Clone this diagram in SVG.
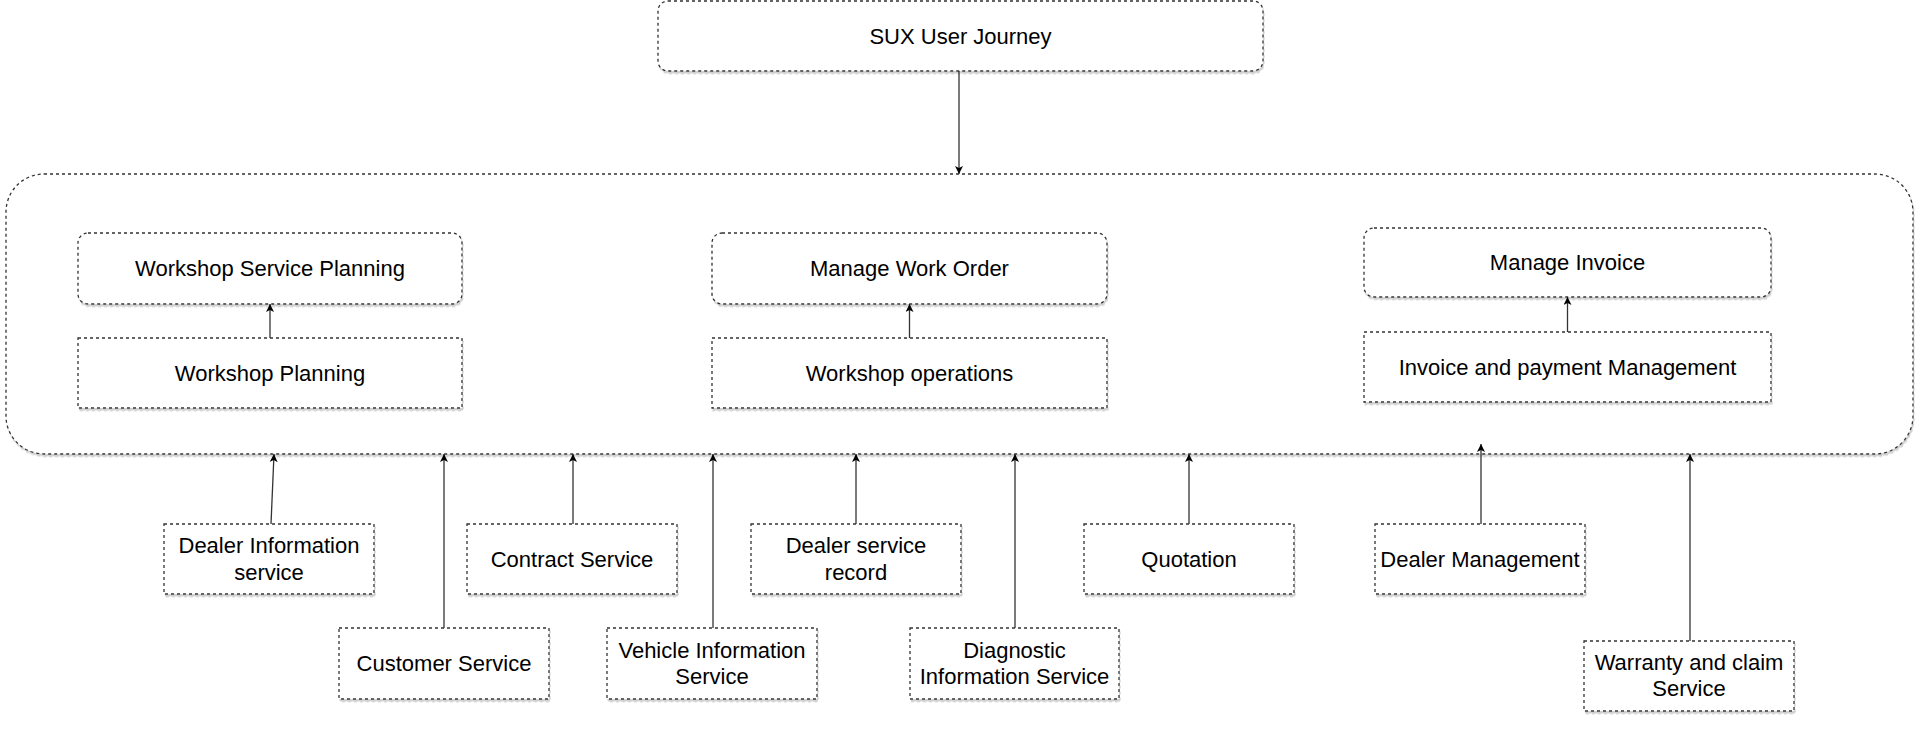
<svg xmlns="http://www.w3.org/2000/svg" width="1920" height="731" viewBox="0 0 1920 731">
<style>
.box{fill:#fff;stroke:#333;stroke-width:1.3;stroke-dasharray:3 3;filter:url(#sh)}
.t{font-family:"Liberation Sans",Arial,sans-serif;font-size:22px;fill:#000;text-anchor:middle}
.c{stroke:#333;stroke-width:1.3;fill:none;marker-end:url(#ah)}
</style>
<defs>
<filter id="sh" x="-5%" y="-5%" width="110%" height="115%">
<feDropShadow dx="1" dy="2.5" stdDeviation="0.6" flood-color="#999" flood-opacity="0.45"/>
</filter>
<marker id="ah" viewBox="0 0 10 10" refX="10" refY="5" markerWidth="9" markerHeight="8" markerUnits="userSpaceOnUse" orient="auto">
<path d="M0,0 L10,5 L0,10 L2.5,5 Z" fill="#000"/>
</marker>
</defs>
<rect width="1920" height="731" fill="#fff"/>

<g id="container"><rect class="box" x="6" y="174" width="1907" height="280" rx="38"/></g>

<g id="sux"><rect class="box" x="658" y="1" width="605" height="70" rx="10"/><text class="t" x="960.5" y="44">SUX User Journey</text></g>

<g id="wsp"><rect class="box" x="78" y="233" width="384" height="71" rx="10"/><text class="t" x="270" y="276">Workshop Service Planning</text></g>
<g id="wp"><rect class="box" x="78" y="338" width="384" height="70"/><text class="t" x="270" y="381">Workshop Planning</text></g>
<g id="mwo"><rect class="box" x="712" y="233" width="395" height="71" rx="10"/><text class="t" x="909.5" y="276">Manage Work Order</text></g>
<g id="wo"><rect class="box" x="712" y="338" width="395" height="70"/><text class="t" x="909.5" y="381">Workshop operations</text></g>
<g id="mi"><rect class="box" x="1364" y="228" width="407" height="69" rx="10"/><text class="t" x="1567.5" y="270">Manage Invoice</text></g>
<g id="ipm"><rect class="box" x="1364" y="332" width="407" height="70"/><text class="t" x="1567.5" y="375">Invoice and payment Management</text></g>

<g id="dis"><rect class="box" x="164" y="524" width="210" height="70"/><text class="t" x="269" y="553">Dealer Information</text><text class="t" x="269" y="580">service</text></g>
<g id="contract"><rect class="box" x="467" y="524" width="210" height="70"/><text class="t" x="572" y="567">Contract Service</text></g>
<g id="dsr"><rect class="box" x="751" y="524" width="210" height="70"/><text class="t" x="856" y="553">Dealer service</text><text class="t" x="856" y="580">record</text></g>
<g id="quotation"><rect class="box" x="1084" y="524" width="210" height="70"/><text class="t" x="1189" y="567">Quotation</text></g>
<g id="dm"><rect class="box" x="1375" y="524" width="210" height="70"/><text class="t" x="1480" y="567">Dealer Management</text></g>

<g id="cs"><rect class="box" x="339" y="628" width="210" height="71"/><text class="t" x="444" y="671">Customer Service</text></g>
<g id="vis"><rect class="box" x="607" y="628" width="210" height="71"/><text class="t" x="712" y="658">Vehicle Information</text><text class="t" x="712" y="684">Service</text></g>
<g id="diag"><rect class="box" x="910" y="628" width="209" height="71"/><text class="t" x="1014.5" y="658">Diagnostic</text><text class="t" x="1014.5" y="684">Information Service</text></g>
<g id="wcs"><rect class="box" x="1584" y="641" width="210" height="70"/><text class="t" x="1689" y="670">Warranty and claim</text><text class="t" x="1689" y="696">Service</text></g>

<g id="connectors">
<line class="c" x1="959" y1="71" x2="959" y2="174"/>
<line class="c" x1="270" y1="338" x2="270" y2="304"/>
<line class="c" x1="909.5" y1="338" x2="909.5" y2="304"/>
<line class="c" x1="1567.5" y1="332" x2="1567.5" y2="297"/>
<line class="c" x1="271" y1="524" x2="274" y2="454"/>
<line class="c" x1="444" y1="628" x2="444" y2="454"/>
<line class="c" x1="573" y1="524" x2="573" y2="454"/>
<line class="c" x1="713" y1="628" x2="713" y2="454"/>
<line class="c" x1="856" y1="524" x2="856" y2="454"/>
<line class="c" x1="1015" y1="628" x2="1015" y2="454"/>
<line class="c" x1="1189" y1="524" x2="1189" y2="454"/>
<line class="c" x1="1481" y1="524" x2="1481" y2="444"/>
<line class="c" x1="1690" y1="641" x2="1690" y2="454"/>
</g>
</svg>
